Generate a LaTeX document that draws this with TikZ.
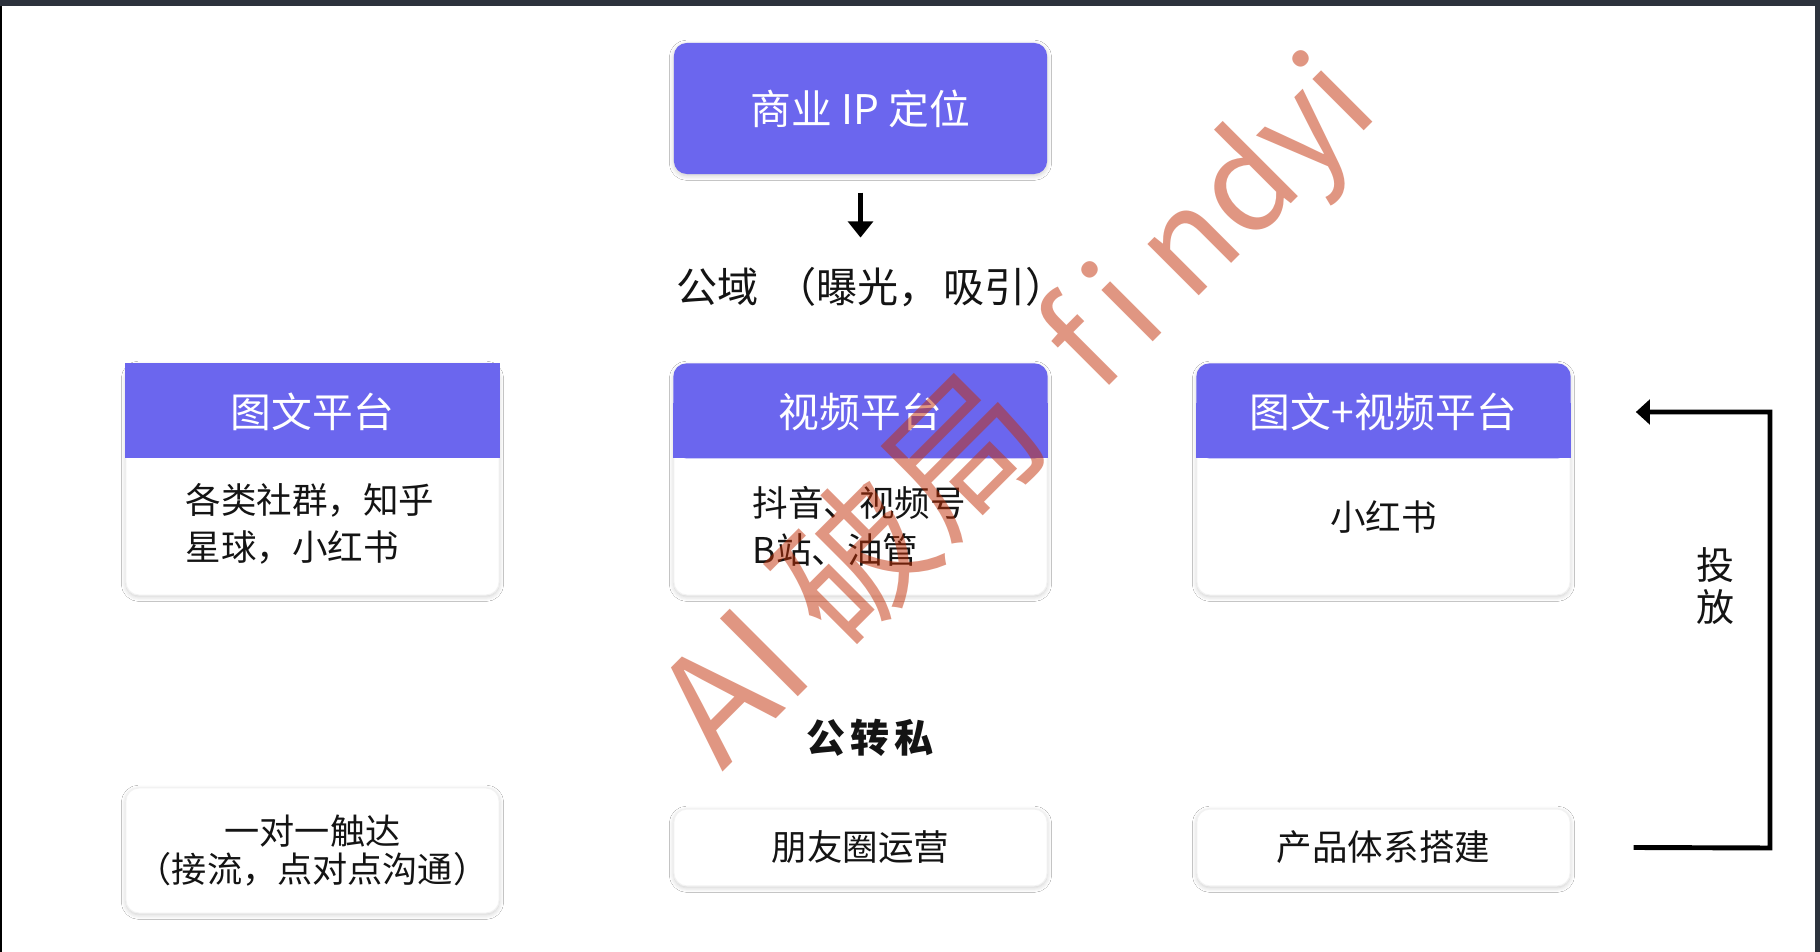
\documentclass[tikz,border=0pt]{standalone}
\usepackage{fontspec}
\setmainfont{Noto Sans CJK SC}
\usetikzlibrary{arrows.meta,shadows.blur,calc}
\definecolor{hdr}{HTML}{6B66EE}
\definecolor{wmc}{RGB}{195,47,6}
\definecolor{framec}{HTML}{2C323C}
\definecolor{ink}{HTML}{141414}
\begin{document}
\begin{tikzpicture}[x=0.01cm,y=-0.01cm,
  card/.style={draw=black!5, line width=0.3pt, fill=white, rounded corners=3.7pt, inner sep=0pt,
    minimum width=3.73cm, align=center,
    blur shadow={shadow xshift=0pt, shadow yshift=-0.5pt, shadow blur radius=1.3pt, shadow opacity=20, shadow blur steps=6}},
  hdrfill/.style={fill=hdr},
  hdrtxt/.style={text=white, inner sep=0pt, minimum width=3.73cm, minimum height=0.95cm,
    font=\fontsize{11.6}{14}\selectfont},
  bodytxt/.style={text=ink, inner sep=0pt, font=\fontsize{10.1}{13.4}\selectfont},
  plaintxt/.style={text=ink, inner sep=0pt, font=\fontsize{11.7}{14}\selectfont},
  arr/.style={draw=black, line width=1.2pt, -{Triangle[width=7pt,length=4.6pt]}},
  wm/.style={text=wmc, text opacity=0.5, inner sep=0pt, font=\fontsize{42.7}{50}\selectfont}
]
\useasboundingbox (0,0) rectangle (1820,952);
\clip (0,0) rectangle (1820,952);
% canvas and frame
\fill[white] (0,0) rectangle (1820,952);
\fill[framec] (0,0) rectangle (1820,6);
\fill[framec] (1815,0) rectangle (1820,952);
\fill[black] (0,6) rectangle (2,952);

% top box
\node[card, draw=none, fill=hdr, minimum height=1.31cm, text=white,
      font=\fontsize{11.6}{14}\selectfont] (top) at (860.5,108.5) {商业 IP 定位};
\node[plaintxt, anchor=west] (gongyu) at (676,287) {公域\hspace{2pt} （曝光，\hspace{1pt}吸引）};
\draw[arr] ([yshift=-0.18cm]top.south) -- ([yshift=-0.63cm]top.south) coordinate (dtip);

% row 2 cards
\node[card, minimum height=2.31cm] (c1) at (312.5,479.5) {};
\node[card, minimum height=2.31cm] (c2) at (860.5,479.5) {};
\node[card, minimum height=2.31cm] (c3) at (1383.5,479.5) {};
% headers
\fill[hdrfill] (c1.north west) rectangle ($(c1.north east)+(0,95)$);
\fill[hdrfill, rounded corners=3.7pt] (c2.north west) rectangle ($(c2.north east)+(0,95)$);
\fill[hdrfill] ($(c2.north west)+(0,40)$) rectangle ($(c2.north east)+(0,95)$);
\fill[hdrfill, rounded corners=3.7pt] (c3.north west) rectangle ($(c3.north east)+(0,95)$);
\fill[hdrfill] ($(c3.north west)+(0,40)$) rectangle ($(c3.north east)+(0,95)$);
\node[hdrtxt] (h1) at (312.5,412) {图文平台};
\node[hdrtxt] (h2) at (860.5,412) {视频平台};
\node[hdrtxt] (h3) at (1383.5,412) {图文+视频平台};
% bodies
\node[bodytxt, anchor=west, align=left] (t1) at (185,523.5) {各类社群，知乎\\星球，小红书};
\node[bodytxt, anchor=west, align=left] (t2) at (752,526) {抖音、视频号\\B站、油管};
\node[bodytxt] (t3) at (1383.5,517) {小红书};

% middle label
\node[text=ink, inner sep=0pt, font=\bfseries\fontsize{11.1}{14}\selectfont] (gzs) at (870,738)
  {公\hspace{1.3pt}转\hspace{1.3pt}私};

% bottom cards
\node[card, minimum height=1.25cm, text=ink, font=\fontsize{10}{10.8}\selectfont] (p1) at (312.5,850.5)
  {一对一触达\\（接流，点对点沟通）};
\node[card, minimum height=0.77cm, text=ink, font=\fontsize{10.1}{13}\selectfont] (p2) at (860.5,847.5) {朋友圈运营};
\node[card, minimum height=0.77cm, text=ink, font=\fontsize{10.1}{13}\selectfont] (p3) at (1383.5,847.5) {产品体系搭建};

% feedback arrow
\coordinate (turn) at (1770,848);
\node[text=ink, inner sep=0pt, align=center, font=\fontsize{10.8}{12}\selectfont] (tf) at (1715,586) {投\\放};
\draw[arr, line width=1.4pt, -{Triangle[width=7pt,length=4pt]}] ([xshift=0.63cm]p3.east) -- (turn) |- ([xshift=0.65cm]h3.east);

% watermark
\node[wm, rotate=45, anchor=base west] (wmark) at (722,773)
  {AI 破局\hspace{18pt}{\fontsize{38}{46}\selectfont f\hspace{6pt}i\hspace{8pt}ndyi}};
\end{tikzpicture}
\end{document}
